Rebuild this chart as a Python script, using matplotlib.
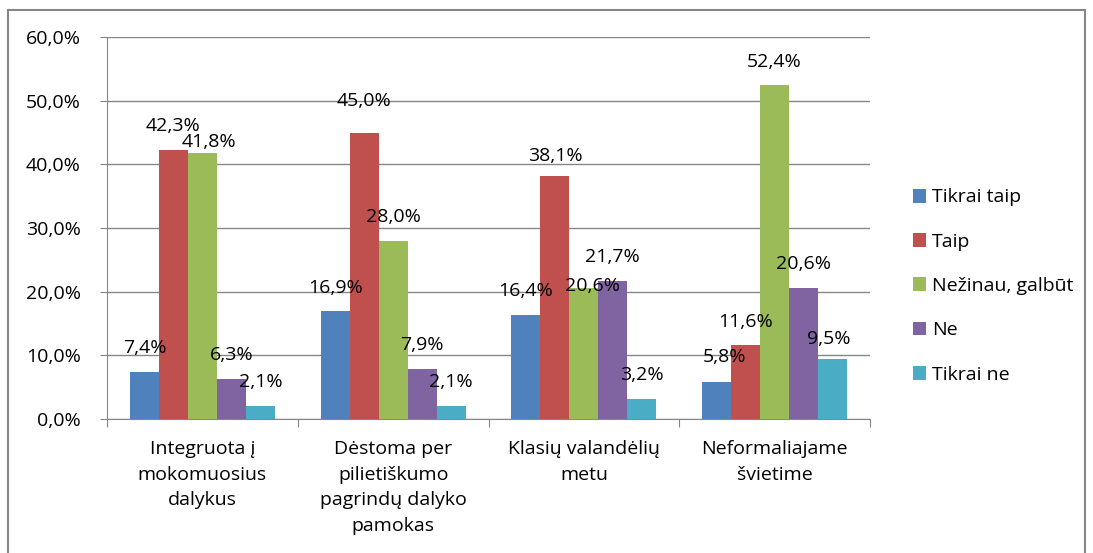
import matplotlib.pyplot as plt
import numpy as np
from matplotlib.patches import Rectangle

categories = ["Integruota į\nmokomuosius\ndalykus",
              "Dėstoma per\npilietiškumo\npagrindų dalyko\npamokas",
              "Klasių valandėlių\nmetu",
              "Neformaliajame\nšvietime"]
series = ["Tikrai taip", "Taip", "Nežinau, galbūt", "Ne", "Tikrai ne"]
tikrai_taip = [7.4, 16.9, 16.4, 5.8]
taip = [42.3, 45.0, 38.1, 11.6]
nezinau = [41.8, 28.0, 20.6, 52.4]
ne = [6.3, 7.9, 21.7, 20.6]
tikrai_ne = [2.1, 2.1, 3.2, 9.5]
values = [tikrai_taip, taip, nezinau, ne, tikrai_ne]
colors = ["#4F81BD", "#C0504D", "#9BBB59", "#8064A2", "#4BACC6"]

# label offsets in points (dx, dy) for a few crowded labels
label_offsets = {(2, 0): (5, 8), (2, 2): (6, 1), (1, 1): (0, 23), (1, 2): (0, 15),
                 (4, 3): (-3, 14), (0, 3): (6, 18)}

plt.rcParams['font.family'] = ['Open Sans', 'DejaVu Sans']
fs = 14
fig = plt.figure(figsize=(10.93, 5.53), dpi=100)
fig.patches.append(Rectangle((8 / 1093, -0.01), 1077 / 1093, 1 - 10 / 553 + 0.01,
                             transform=fig.transFigure, fill=False,
                             edgecolor="#868686", linewidth=1.5))
ax = fig.add_axes([107 / 1093, 1 - 419 / 553, 763 / 1093, 382 / 553])

x = np.arange(len(categories))
w = 0.152
for i, (name, vals, c) in enumerate(zip(series, values, colors)):
    pos = x + (i - 2) * w
    ax.bar(pos, vals, w, color=c, label=name, zorder=3)
    for j, v in enumerate(vals):
        dx, dy = label_offsets.get((i, j), (0, 17))
        ax.annotate(f"{v:.1f}%".replace(".", ","), (pos[j], v),
                    xytext=(dx, dy), textcoords="offset points",
                    ha="center", va="center", fontsize=fs, zorder=4)

ax.set_ylim(0, 60)
ax.set_xlim(-0.5, 3.5)
yt = np.arange(0, 61, 10)
ax.set_yticks(yt)
ax.set_yticklabels([f"{t:.1f}%".replace(".", ",") for t in yt], fontsize=fs)
ax.yaxis.grid(True, color="#868686", linewidth=1, zorder=0)
ax.set_xticks([-0.5, 0.5, 1.5, 2.5, 3.5])
ax.set_xticklabels([])
ax.set_xticks(x, minor=True)
ax.set_xticklabels(categories, minor=True, fontsize=fs, linespacing=1.55)
ax.tick_params(axis="x", which="minor", length=0, pad=15)
ax.tick_params(axis="x", which="major", length=6, color="#868686")
ax.tick_params(axis="y", length=5, color="#868686", pad=14)
for s in ["top", "right"]:
    ax.spines[s].set_visible(False)
for s in ["left", "bottom"]:
    ax.spines[s].set_color("#868686")

fig.legend(loc="center left", bbox_to_anchor=(895 / 1093, 1 - 286 / 553),
           frameon=False, fontsize=fs, handlelength=0.7, handleheight=0.7,
           labelspacing=1.35, handletextpad=0.3)

fig.savefig("out.png", dpi=100)
